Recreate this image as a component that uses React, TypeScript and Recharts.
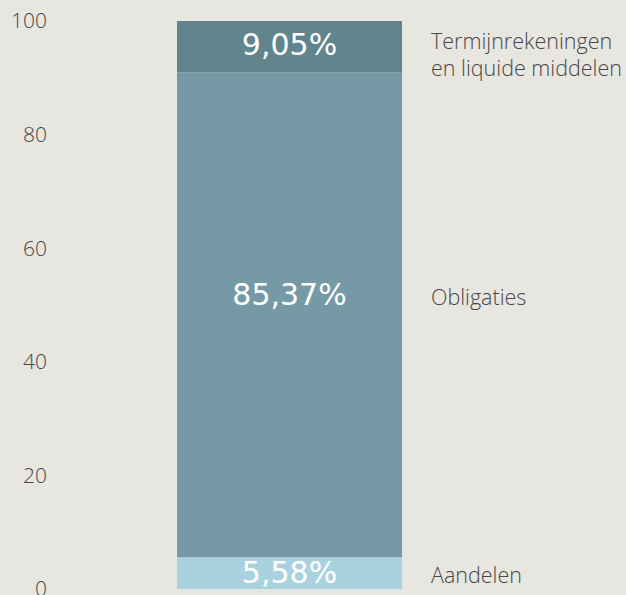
import React from "react";
import { Bar, BarChart, LabelList, XAxis, YAxis } from "recharts";

const categories = ["Portefeuille"];
const aandelen = [5.58];
const obligaties = [85.37];
const termijn = [9.05];
const yTicks = [0, 20, 40, 60, 80, 100];
const valueLabels = ["5,58%", "85,37%", "9,05%"];
const seriesNames = [["Aandelen"], ["Obligaties"], ["Termijnrekeningen", "en liquide middelen"]];

const data = categories.map((name, i) => ({
  name,
  aandelen: aandelen[i],
  obligaties: obligaties[i],
  termijn: termijn[i],
}));

const BG = "#e8e6e1";
const TEXT = "#474747";

// baseline offsets from the segment centre: [value, name lines...]
const offsets = [
  { value: 10, names: [10] },
  { value: -10, names: [-10] },
  { value: 8, names: [2, 29] },
];

const makeLabel = (idx: number) => (props: any) => {
  const { x, y, width, height } = props;
  const cx = x + width / 2;
  const cy = y + height / 2;
  const off = offsets[idx];
  return (
    <g>
      <text
        x={cx}
        y={cy + off.value}
        textAnchor="middle"
        fill="#ffffff"
        fontSize={30}
        fontFamily="'DejaVu Sans', sans-serif"
      >
        {valueLabels[idx]}
      </text>
      {seriesNames[idx].map((line, j) => (
        <text
          key={j}
          x={x + width + 29}
          y={cy + off.names[j]}
          textAnchor="start"
          fill={TEXT}
          fontSize={21.5}
          fontWeight={300}
          fontFamily="'Open Sans', sans-serif"
        >
          {line}
        </text>
      ))}
    </g>
  );
};

export default function App() {
  return (
    <div style={{ position: "absolute", left: 0, top: 0, width: 626, height: 595, background: BG }}>
      <BarChart
        width={626}
        height={595}
        data={data}
        margin={{ top: 21, right: 95, left: 0, bottom: 6 }}
      >
        <XAxis dataKey="name" hide />
        <YAxis
          domain={[0, 100]}
          ticks={yTicks}
          interval={0}
          width={47}
          axisLine={false}
          tickLine={false}
          tickSize={0}
          tickMargin={0}
          tick={{ fill: TEXT, fontSize: 21, fontWeight: 300, fontFamily: "'Open Sans', sans-serif" }}
        />
        <Bar dataKey="aandelen" stackId="a" fill="#a8d3de" barSize={225} isAnimationActive={false}>
          <LabelList dataKey="aandelen" content={makeLabel(0)} />
        </Bar>
        <Bar dataKey="obligaties" stackId="a" fill="#769aa5" barSize={225} isAnimationActive={false}>
          <LabelList dataKey="obligaties" content={makeLabel(1)} />
        </Bar>
        <Bar dataKey="termijn" stackId="a" fill="#62848c" barSize={225} isAnimationActive={false}>
          <LabelList dataKey="termijn" content={makeLabel(2)} />
        </Bar>
      </BarChart>
    </div>
  );
}
